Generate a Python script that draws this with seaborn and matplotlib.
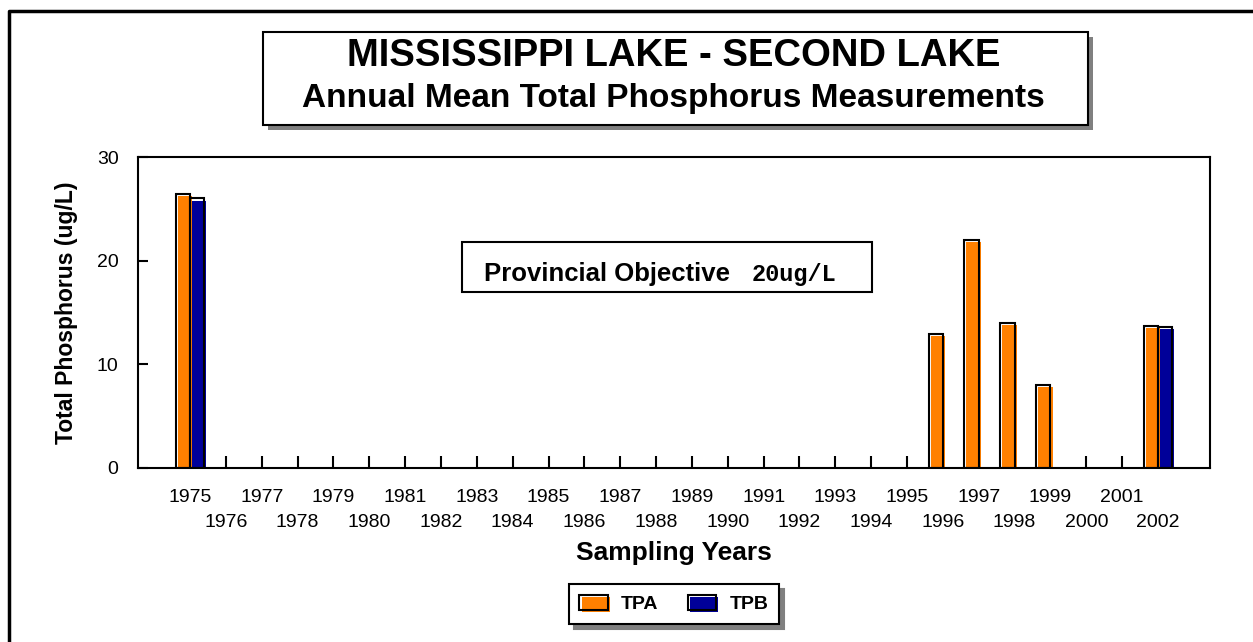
import pandas as pd
import matplotlib.pyplot as plt
import matplotlib.patheffects as pe
from matplotlib.patches import Rectangle, Patch
from matplotlib.lines import Line2D
import seaborn as sns

# --- data ---
years = list(range(1975, 2003))
tpa_years = [1975, 1996, 1997, 1998, 1999, 2002]
tpa_values = [26.4, 12.9, 22.0, 14.0, 8.0, 13.7]
tpb_years = [1975, 2002]
tpb_values = [26.0, 13.6]
series_names = ["TPA", "TPB"]
series_colors = ["#FF8000", "#000099"]
y_ticks = [0, 10, 20, 30]

df = pd.concat([
    pd.DataFrame({"year": tpa_years, "series": "TPA", "value": tpa_values}),
    pd.DataFrame({"year": tpb_years, "series": "TPB", "value": tpb_values}),
], ignore_index=True)
df["year"] = df["year"].astype(str)
order = [str(y) for y in years]

sns.set_theme(style="white")
plt.rcParams["font.family"] = ["Liberation Sans", "DejaVu Sans"]
plt.rcParams["text.color"] = "black"
plt.rcParams["axes.labelcolor"] = "black"
plt.rcParams["xtick.color"] = "black"
plt.rcParams["ytick.color"] = "black"

W, H = 1253, 642
fig = plt.figure(figsize=(W / 100, H / 100), dpi=100)


def fx(px):
    return px / W


def fy(py):
    return 1 - py / H


ax = fig.add_axes([fx(138), fy(468), fx(1210) - fx(138), fy(157) - fy(468)])
sns.barplot(data=df, x="year", y="value", hue="series", order=order,
            hue_order=series_names, palette=series_colors, width=0.8,
            saturation=1, errorbar=None, legend=False, ax=ax)

# offset colour fill inside a black outline, like the original
for bar in ax.patches:
    c = bar.get_facecolor()
    bar.set_facecolor("none")
    bar.set_edgecolor("black")
    bar.set_linewidth(1.5)
    bar.set_path_effects([pe.SimplePatchShadow(offset=(1.5, -1.5), shadow_rgbFace=c, alpha=1),
                          pe.Normal()])

n = len(years)
ax.set_xlim(-1.45, n - 1 + 1.45)
ax.set_ylim(0, 30)
ax.set_yticks(y_ticks)
ax.set_xticks(range(0, n, 2), [str(y) for y in years[0::2]])
ax.set_xticks(range(1, n, 2), [str(y) for y in years[1::2]], minor=True)
ax.tick_params(axis="x", which="both", bottom=True, direction="in", length=9,
               width=1.5, labelsize=14, colors="black")
ax.tick_params(axis="x", which="major", pad=15)
ax.tick_params(axis="x", which="minor", pad=33)
ax.tick_params(axis="y", left=True, direction="in", length=7, width=1.5,
               labelsize=14, pad=14, colors="black")
for s in ax.spines.values():
    s.set_visible(True)
    s.set_color("black")
    s.set_linewidth(1.5)

ax.set_xlabel("Sampling Years", fontsize=19, fontweight="bold")
ax.xaxis.set_label_coords(0.5, -0.235)
ax.set_ylabel("Total Phosphorus (ug/L)", fontsize=16.5, fontweight="bold")
ax.yaxis.set_label_coords(-0.056, 0.5)

# outer frame (top and left edges)
fig.add_artist(Line2D([fx(9), fx(9), 1], [0, fy(11), fy(11)], transform=fig.transFigure,
                      color="black", lw=2.5))

# title box with shadow
fig.add_artist(Rectangle((fx(268), fy(130)), fx(1093) - fx(268), fy(37) - fy(130),
                         transform=fig.transFigure, facecolor="#808080", edgecolor="none", zorder=1))
fig.add_artist(Rectangle((fx(263), fy(125)), fx(1088) - fx(263), fy(32) - fy(125),
                         transform=fig.transFigure, facecolor="white", edgecolor="black",
                         lw=1.5, zorder=2))
fig.text(fx(674), fy(56), "MISSISSIPPI LAKE - SECOND LAKE", ha="center", va="center",
         fontsize=27.5, fontweight="bold", zorder=3)
fig.text(fx(673), fy(99), "Annual Mean Total Phosphorus Measurements", ha="center",
         va="center", fontsize=24, fontweight="bold", zorder=3)

# provincial objective box
fig.add_artist(Rectangle((fx(462), fy(292)), fx(872) - fx(462), fy(242) - fy(292),
                         transform=fig.transFigure, facecolor="white", edgecolor="black",
                         lw=1.5, zorder=2))
fig.text(fx(484), fy(281), "Provincial Objective", ha="left", va="baseline",
         fontsize=18.5, fontweight="bold", zorder=3)
fig.text(fx(752), fy(281), "20ug/L", ha="left", va="baseline", fontsize=17,
         fontweight="bold", family=["Liberation Mono", "DejaVu Sans Mono"], zorder=3)

# legend
handles = [Patch(facecolor="none", edgecolor="black", linewidth=1.5, label=name,
                 path_effects=[pe.SimplePatchShadow(offset=(1.5, -1.5), shadow_rgbFace=c, alpha=1),
                               pe.Normal()])
           for name, c in zip(series_names, series_colors)]
leg = fig.legend(handles=handles, loc="center", bbox_to_anchor=(fx(674), fy(604)), ncol=2,
                 frameon=True, fancybox=False, edgecolor="black", framealpha=1,
                 shadow={"ox": 3.5, "oy": -3.5, "color": "#808080", "alpha": 1},
                 prop={"weight": "bold", "size": 14}, handlelength=1.45, handleheight=0.8,
                 columnspacing=1.5, handletextpad=0.7, borderpad=0.55, borderaxespad=0)
leg.get_frame().set_linewidth(1.5)

fig.savefig("out.png", dpi=100)
